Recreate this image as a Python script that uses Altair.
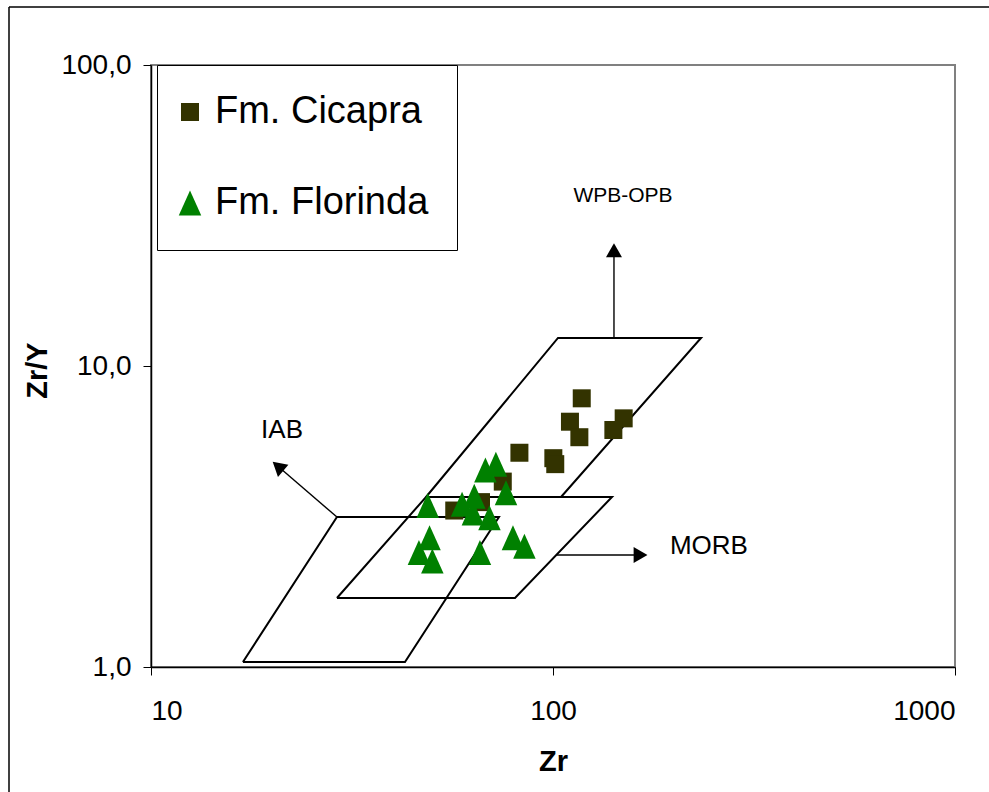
import altair as alt
import pandas as pd

# ---- data ----
series_names = ["Fm. Cicapra", "Fm. Florinda"]
series_colors = ["#333300", "#008000"]

cic_zr = [117.9, 110.2, 116.3, 149.9, 141.3, 82.5, 100.2, 101.3, 75.0, 56.8, 66.2]
cic_zry = [7.81, 6.53, 5.80, 6.70, 6.13, 5.15, 4.94, 4.72, 4.13, 3.31, 3.53]

flo_zr = [72.1, 67.9, 76.4, 48.8, 63.7, 59.4, 63.2, 69.5, 49.3, 46.4, 50.1, 65.8, 79.5, 84.9]
flo_zry = [4.72, 4.51, 3.79, 3.44, 3.69, 3.47, 3.25, 3.13, 2.69, 2.40, 2.25, 2.40, 2.69, 2.52]

# discrimination fields (outline vertices)
iab_zr = [16.93, 42.83, 73.38, 29.01, 16.93]
iab_zry = [1.039, 1.039, 3.149, 3.149, 1.039]
morb_zr = [29.01, 80.45, 140.2, 48.32, 29.01]
morb_zry = [1.695, 1.695, 3.671, 3.671, 1.695]
wpb_zr = [48.32, 102.9, 233.5, 104.7]
wpb_zry = [3.671, 12.39, 12.39, 3.671]

# arrows
arrow_names = ["WPB-OPB", "MORB", "IAB"]
arrow_zr0 = [141.8, 101.7, 29.01]
arrow_zry0 = [12.39, 2.356, 3.149]
arrow_zr1 = [141.8, 165.1, 20.69]
arrow_zry1 = [24.24, 2.356, 4.643]
head_angle = [0, 90, 310.7]

# field labels
label_text = ["WPB-OPB", "IAB", "MORB"]
label_zr = [149.3, 21.18, 244.3]
label_zry = [36.85, 6.13, 2.533]
label_size = [21, 26, 26]

# ---- tables ----
pts = pd.DataFrame(
    {"series": [series_names[0]] * len(cic_zr) + [series_names[1]] * len(flo_zr),
     "zr": cic_zr + flo_zr,
     "zry": cic_zry + flo_zry}
)

rows = []
for name, xs_, ys_ in [("IAB", iab_zr, iab_zry), ("MORB", morb_zr, morb_zry), ("WPB", wpb_zr, wpb_zry)]:
    for i, (a, b) in enumerate(zip(xs_, ys_)):
        rows.append({"field": name, "i": i, "zr": a, "zry": b})
fields = pd.DataFrame(rows)

arows = []
for n, a0, b0, a1, b1 in zip(arrow_names, arrow_zr0, arrow_zry0, arrow_zr1, arrow_zry1):
    arows.append({"arrow": n, "i": 0, "zr": a0, "zry": b0})
    arows.append({"arrow": n, "i": 1, "zr": a1, "zry": b1})
arrows = pd.DataFrame(arows)
heads = pd.DataFrame({"arrow": arrow_names, "zr": arrow_zr1, "zry": arrow_zry1, "angle": head_angle})
labels = pd.DataFrame({"text": label_text, "zr": label_zr, "zry": label_zry, "fs": label_size})

FONT = "Liberation Sans"
tri_path = "M0,-1L0.9,1L-0.9,1Z"

xs = alt.Scale(type="log", domain=[10, 1000], nice=False)
ys = alt.Scale(type="log", domain=[1, 100], nice=False)

X = alt.X(
    "zr:Q", scale=xs,
    axis=alt.Axis(
        title="Zr", values=[10, 100, 1000], labelExpr="format(datum.value, 'd')",
        grid=False, tickSize=8, tickColor="black", domainColor="black", domainWidth=1.5,
        labelFont=FONT, labelFontSize=28, labelColor="black", labelPadding=22,
        titleFont=FONT, titleFontSize=29, titleFontWeight="bold", titleColor="black",
        titleX=402, titleY=103, titleBaseline="alphabetic", titleAlign="center",
    ),
)
Y = alt.Y(
    "zry:Q", scale=ys,
    axis=alt.Axis(
        title="Zr/Y", values=[1, 10, 100],
        labelExpr="replace(format(datum.value, '.1f'), '.', ',')",
        grid=False, tickSize=8, tickColor="black", domainColor="black", domainWidth=1.5,
        labelFont=FONT, labelFontSize=28, labelColor="black", labelPadding=12,
        titleFont=FONT, titleFontSize=29, titleFontWeight="bold", titleColor="black",
        titleX=-105, titleY=305, titleAngle=270, titleBaseline="alphabetic", titleAlign="center",
    ),
)

field_lines = alt.Chart(fields).mark_line(color="black", strokeWidth=2).encode(
    x=X, y=Y, detail="field:N", order="i:Q"
)
arrow_lines = alt.Chart(arrows).mark_line(color="black", strokeWidth=1.4).encode(
    x=X, y=Y, detail="arrow:N", order="i:Q"
)
arrow_heads = alt.Chart(heads).mark_point(
    shape="triangle-up", filled=True, color="black", size=256, opacity=1
).encode(x=X, y=Y, angle=alt.Angle("angle:Q", scale=None))

points = alt.Chart(pts).mark_point(filled=True, opacity=1, strokeWidth=0).encode(
    x=X, y=Y,
    color=alt.Color(
        "series:N",
        scale=alt.Scale(domain=series_names, range=series_colors),
        legend=alt.Legend(
            title=None, orient="none", legendX=6, legendY=0,
            padding=28, rowPadding=53, labelOffset=6, symbolOffset=-14, symbolSize=280,
            symbolStrokeWidth=0, labelFont=FONT, labelFontSize=38, labelColor="black",
            labelLimit=0, strokeColor="black", fillColor="white",
        ),
    ),
    shape=alt.Shape("series:N", scale=alt.Scale(domain=series_names, range=["square", tri_path])),
    size=alt.Size("series:N", scale=alt.Scale(domain=series_names, range=[324, 625]), legend=None),
    order=alt.Order("series:N"),
)

texts = alt.Chart(labels).mark_text(font=FONT, color="black", align="center", baseline="middle").encode(
    x=X, y=Y, text="text:N", size=alt.Size("fs:Q", scale=None)
)

frame_df = pd.DataFrame({"k": [0]})
frame_left = alt.Chart(frame_df).mark_rule(color="black", strokeWidth=1.5).encode(
    x=alt.value(-142), y=alt.value(-58), y2=alt.value(727)
)
frame_top = alt.Chart(frame_df).mark_rule(color="black", strokeWidth=1.5).encode(
    x=alt.value(-142), x2=alt.value(838), y=alt.value(-58)
)

chart = (
    alt.layer(frame_left, frame_top, field_lines, arrow_lines, arrow_heads, points, texts)
    .properties(width=804, height=602, autosize=alt.AutoSizeParams(type="none"),
                padding={"left": 151, "top": 65, "right": 34, "bottom": 125},
                background="white")
    .configure_view(stroke="#808080", strokeWidth=2)
)

chart.save("out.html", embed_options={"renderer": "svg", "actions": False})
